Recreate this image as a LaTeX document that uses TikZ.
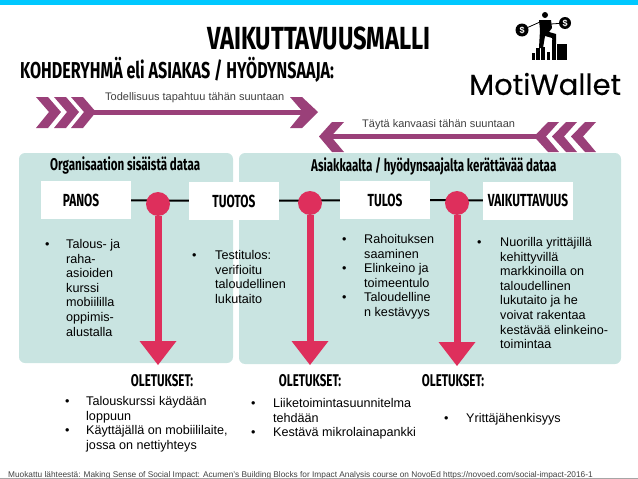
\documentclass[tikz,border=0pt]{standalone}
\usepackage{fontspec}
\setmainfont{Liberation Sans}
\newfontfamily\oswaldfont[FakeStretch=0.68]{Fira Sans}
\newfontfamily\subheadfont[FakeStretch=0.70]{Fira Sans}
\newfontfamily\titlefont[FakeStretch=0.74]{Fira Sans}
\newfontfamily\logofont[FakeBold=0.25]{Poppins}
\usepackage{tikz}
\usetikzlibrary{positioning, calc}
\definecolor{panelteal}{HTML}{C9E4E1}
\definecolor{plumline}{HTML}{9A4079}
\definecolor{rosered}{HTML}{DE2F5C}
\definecolor{topcyan}{HTML}{00C8FF}
\newcommand{\itembul}{\makebox[0pt][l]{\textbullet}}

\begin{document}
\begin{tikzpicture}[
        x=1pt, y=-1pt,
        panel/.style={fill=panelteal, rounded corners=6pt},
        stagebox/.style={fill=white, minimum width=90pt, minimum height=38pt, inner sep=0pt, font=\oswaldfont\bfseries\fontsize{17.5}{17.5}\selectfont},
        headline/.style={inner sep=0pt, anchor=west, font=\oswaldfont\bfseries\fontsize{#1}{#1}\selectfont},
        listbox/.style={inner sep=0pt, anchor=north west, align=left, font=\fontsize{12.6}{14.6}\selectfont},
        hint/.style={inner sep=0pt, anchor=west, text=black!75, font=\fontsize{11}{12}\selectfont},
        link/.style={draw=black, line width=2pt},
        dot/.style={circle, fill=rosered, minimum size=24pt, inner sep=0pt},
        stem/.style={draw=rosered, line width=7pt},
        plumband/.style={draw=plumline, line width=5pt},
        plumfill/.style={fill=plumline}
    ]
    \useasboundingbox (0,0) rectangle (638,479);
    \fill[topcyan] (0,0) rectangle (638,5);

    % Titles
    \node[inner sep=0pt, anchor=west, font=\titlefont\bfseries\fontsize{32}{32}\selectfont] (title) at (207,38) {VAIKUTTAVUUSMALLI};
    \node[inner sep=0pt, anchor=west, font=\subheadfont\bfseries\fontsize{23}{23}\selectfont] (subtitle) at (20,70) {KOHDERYHMÄ eli ASIAKAS / HYÖDYNSAAJA:};

    % Direction arrows
    \coordinate (realstart) at (90,112);
    \coordinate (realend) at (310,112);
    \draw[plumband] (realstart) -- (realend);
    \foreach \px in {36,54,71} {
        \fill[plumfill] (\px,97) -- (\px+12,97) -- (\px+25,112) -- (\px+12,128) -- (\px,128) -- (\px+13,112) -- cycle;
    }
    \fill[plumfill] (290,97) -- (302,97) -- (318,112) -- (302,128) -- (290,128) -- (303,112) -- cycle;
    \node[hint] (realtext) at (105,98) {Todellisuus tapahtuu tähän suuntaan};

    \coordinate (fillstart) at (545,136.5);
    \coordinate (fillend) at (328,136.5);
    \draw[plumband] (fillstart) -- (fillend);
    \foreach \px in {559,577,596} {
        \fill[plumfill] (\px,122) -- (\px-11,122) -- (\px-25,136.5) -- (\px-11,152) -- (\px,152) -- (\px-13,136.5) -- cycle;
    }
    \fill[plumfill] (344,122) -- (332,122) -- (319,136.5) -- (332,152) -- (344,152) -- (331,136.5) -- cycle;
    \node[hint] (filltext) at (362,125) {Täytä kanvaasi tähän suuntaan};

    % Panels
    \fill[panel] (19,153) rectangle (233,363);
    \fill[panel] (239,153) rectangle (621,364);
    \node[headline=17] (inner) at (50,165) {Organisaation sisäistä dataa};
    \node[headline=17] (outer) at (311,166) {Asiakkaalta / hyödynsaajalta kerättävää dataa};

    % Stages
    \node[stagebox] (panos) at (86,200) {PANOS\hspace*{10pt}};
    \node[stagebox] (tuotos) at (234,201) {TUOTOS};
    \node[stagebox] (tulos) at (385,200) {TULOS};
    \node[stagebox] (vaikutus) at (528,200.5) {VAIKUTTAVUUS};

    \draw[link] (panos) -- (tuotos);
    \draw[link] (tuotos) -- (tulos);
    \draw[link] (tulos) -- (vaikutus);

    % Assumption arrows
    \node[dot] (dotone) at (158,204) {};
    \node[dot] (dottwo) at (310,203) {};
    \node[dot] (dotthree) at (457,203) {};
    \node[headline=17, anchor=center] (oletone) at (162,381) {OLETUKSET:};
    \node[headline=17, anchor=center] (olettwo) at (310,381) {OLETUKSET:};
    \node[headline=17, anchor=center] (oletthree) at (453,381) {OLETUKSET:};
    \coordinate (tipone) at (158,365);
    \coordinate (tiptwo) at (310,365);
    \coordinate (tipthree) at (457,366);
    \foreach \tipname in {tipone,tiptwo,tipthree} {
        \fill[rosered] ($(\tipname)+(-18.5,-24)$) -- ($(\tipname)+(18.5,-24)$) -- (\tipname) -- cycle;
    }
    \draw[stem] (dotone) -- ($(tipone)+(0,-22)$);
    \draw[stem] (dottwo) -- ($(tiptwo)+(0,-22)$);
    \draw[stem] (dotthree) -- ($(tipthree)+(0,-22)$);

    % Lists
    \node[listbox] (listone) at (45,238) {\begin{tabular}{@{}p{21pt}@{}l@{}}
        \itembul & Talous- ja\\ & raha-\\ & asioiden\\ & kurssi\\ & mobiililla\\ & oppimis-\\ & alustalla
    \end{tabular}};
    \node[listbox] (listtwo) at (192,249) {\begin{tabular}{@{}p{23pt}@{}l@{}}
        \itembul & Testitulos:\\ & verifioitu\\ & taloudellinen\\ & lukutaito
    \end{tabular}};
    \node[listbox] (listthree) at (342,233) {\begin{tabular}{@{}p{22pt}@{}l@{}}
        \itembul & Rahoituksen\\ & saaminen\\ \itembul & Elinkeino ja\\ & toimeentulo\\ \itembul & Taloudelline\\ & n kestävyys
    \end{tabular}};
    \node[listbox] (listfour) at (477,236) {\begin{tabular}{@{}p{23pt}@{}l@{}}
        \itembul & Nuorilla yrittäjillä\\ & kehittyvillä\\ & markkinoilla on\\ & taloudellinen\\ & lukutaito ja he\\ & voivat rakentaa\\ & kestävää elinkeino-\\ & toimintaa
    \end{tabular}};
    \node[listbox] (listfive) at (65,395) {\begin{tabular}{@{}p{21pt}@{}l@{}}
        \itembul & Talouskurssi käydään\\ & loppuun\\ \itembul & Käyttäjällä on mobiililaite,\\ & jossa on nettiyhteys
    \end{tabular}};
    \node[listbox] (listsix) at (251,397) {\begin{tabular}{@{}p{22pt}@{}l@{}}
        \itembul & Liiketoimintasuunnitelma\\ & tehdään\\ \itembul & Kestävä mikrolainapankki
    \end{tabular}};
    \node[listbox] (listseven) at (444,412) {\begin{tabular}{@{}p{22pt}@{}l@{}}
        \itembul & Yrittäjähenkisyys
    \end{tabular}};

    % Logo
    \node[inner sep=0pt, anchor=west, font=\logofont\fontsize{29}{29}\selectfont] (logo) at (469,84) {MotiWallet};
    \node[circle, fill=black, text=white, minimum size=13pt, inner sep=0pt, font=\bfseries\fontsize{9}{9}\selectfont] (coinleft) at (522,30) {\$};
    \node[circle, fill=black, text=white, minimum size=12pt, inner sep=0pt, font=\bfseries\fontsize{9}{9}\selectfont] (coinright) at (565,23) {\$};
    \foreach \bx/\btop/\bw in {532/53/3,536/48/4,541/47/4,547/52/3,552/40/4,557/44/10} {
        \fill (\bx,\btop) rectangle (\bx+\bw,60);
    }
    \fill (545,15) circle (3);
    \fill (539,20) -- (551,20) -- (552,28) -- (549,32) -- (556,34) -- (556,44) -- (553,44) -- (552,38) -- (545,36) -- (543,48) -- (539,48) -- (540,30) -- cycle;
    \draw[line width=0.8pt] (coinleft) -- (540,22);
    \draw[line width=0.8pt] (551,24) -- (coinright);

    % Footer
    \node[inner sep=0pt, anchor=west, text=black!75, font=\fontsize{8.3}{9}\selectfont] (source) at (8,475.5) {Muokattu lähteestä: Making Sense of Social Impact: Acumen's Building Blocks for Impact Analysis course on NovoEd https://novoed.com/social-impact-2016-1};
    \fill[black!35] (0,478) rectangle (638,479);
\end{tikzpicture}
\end{document}
